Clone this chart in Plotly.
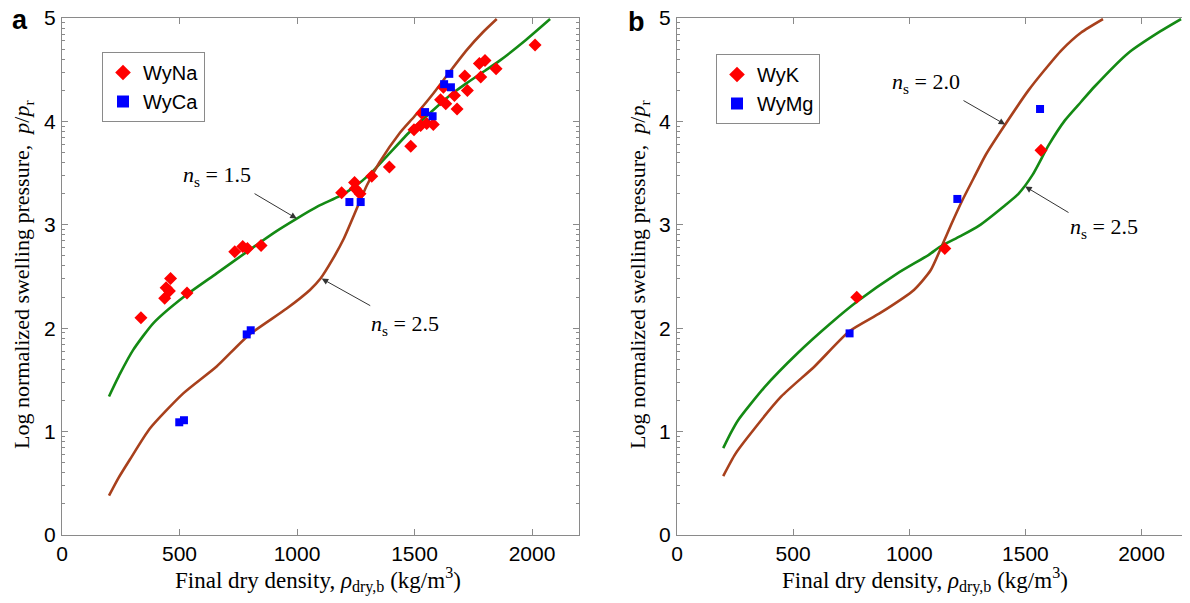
import plotly.graph_objects as go

# ---------------- Panel a ----------------
wyna_rho = [336, 437, 443, 457, 462, 532, 735, 769, 789, 847, 1190, 1245, 1248, 1268, 1318,
            1393, 1484, 1498, 1526, 1531, 1552, 1580, 1611, 1623, 1633, 1670, 1681, 1714,
            1725, 1776, 1782, 1800, 1847, 2013]
wyna_logp = [2.10, 2.29, 2.39, 2.36, 2.48, 2.34, 2.74, 2.79, 2.77, 2.80, 3.31, 3.41, 3.35, 3.30, 3.47,
             3.56, 3.76, 3.92, 3.96, 4.08, 3.98, 3.97, 4.21, 4.33, 4.17, 4.25, 4.12, 4.44,
             4.30, 4.56, 4.43, 4.59, 4.51, 4.74]
wyca_rho = [499, 519, 786, 803, 1223, 1271, 1545, 1577, 1626, 1648, 1655]
wyca_logp = [1.09, 1.11, 1.94, 1.98, 3.22, 3.22, 4.09, 4.05, 4.36, 4.46, 4.33]

a_ns15_rho = [200, 247, 303, 389, 516, 658, 800, 900, 999, 1090, 1183, 1240, 1310, 1381,
              1480, 1580, 1650, 1722, 1800, 1864, 1970, 2077]
a_ns15_logp = [1.34, 1.56, 1.79, 2.05, 2.30, 2.53, 2.76, 2.92, 3.06, 3.18, 3.28, 3.36, 3.49, 3.66,
               3.90, 4.11, 4.25, 4.37, 4.49, 4.59, 4.78, 4.99]
a_ns25_rho = [200, 240, 289, 374, 516, 658, 793, 956, 1055, 1100, 1150, 1200, 1240, 1297,
              1350, 1438, 1500, 1580, 1650, 1722, 1790, 1850]
a_ns25_logp = [0.38, 0.55, 0.73, 1.03, 1.37, 1.63, 1.93, 2.19, 2.37, 2.48, 2.66, 2.87, 3.08, 3.38,
               3.60, 3.89, 4.05, 4.27, 4.48, 4.69, 4.86, 4.99]

# ---------------- Panel b ----------------
wyk_rho = [774, 1153, 1567]
wyk_logp = [2.30, 2.77, 3.72]
wymg_rho = [743, 1207, 1563]
wymg_logp = [1.95, 3.25, 4.12]

b_ns25_rho = [199, 230, 263, 377, 520, 663, 777, 949, 1084, 1134, 1220, 1299, 1413, 1470,
              1530, 1600, 1670, 1740, 1799, 1942, 2080, 2170]
b_ns25_logp = [0.84, 0.98, 1.11, 1.43, 1.76, 2.05, 2.26, 2.53, 2.71, 2.79, 2.89, 2.99, 3.19, 3.30,
               3.48, 3.77, 4.01, 4.19, 4.34, 4.66, 4.87, 4.99]
b_ns20_rho = [199, 250, 306, 449, 592, 742, 877, 1020, 1092, 1141, 1180, 1227, 1277, 1330,
              1413, 1513, 1580, 1656, 1740, 1834]
b_ns20_logp = [0.57, 0.78, 0.95, 1.34, 1.63, 1.97, 2.15, 2.37, 2.56, 2.80, 3.00, 3.23, 3.45, 3.68,
               3.97, 4.30, 4.49, 4.69, 4.86, 4.99]

x_tick_vals = [0, 500, 1000, 1500, 2000]
y_tick_exps = [0, 1, 2, 3, 4, 5]
y_tick_labels = ["0", "1", "2", "3", "4", "5"]
y_minor_digits = [2, 3, 4, 5, 6, 7, 8, 9]

GREEN = "#148a14"
BROWN = "#a8401c"
RED = "#ff0000"
BLUE = "#0000ff"
AXC = "#8a8a8a"

# page body has an 8px margin: figure is drawn 8px right/down in the window
OFF = 8
W, H = 1190 - OFF, 603 - OFF


def fx(px):
    return (px - OFF) / W


def fy(py):
    return 1 - (py - OFF) / H


def p(vals):
    return [10 ** v for v in vals]


fig = go.Figure()


def line(xs, ys, color, xa, ya):
    fig.add_trace(go.Scatter(x=xs, y=p(ys), mode="lines",
                             line=dict(color=color, width=2.6, shape="spline", smoothing=0.6),
                             showlegend=False, xaxis=xa, yaxis=ya, hoverinfo="skip"))


def pts(xs, ys, name, sym, color, size, xa, ya, leg):
    fig.add_trace(go.Scatter(x=xs, y=p(ys), mode="markers", name=name,
                             marker=dict(symbol=sym, color=color, size=size, line=dict(width=0)),
                             xaxis=xa, yaxis=ya, legend=leg))


line(a_ns15_rho, a_ns15_logp, GREEN, "x", "y")
line(a_ns25_rho, a_ns25_logp, BROWN, "x", "y")
pts(wyna_rho, wyna_logp, "WyNa", "diamond", RED, 10, "x", "y", "legend")
pts(wyca_rho, wyca_logp, "WyCa", "square", BLUE, 8, "x", "y", "legend")

line(b_ns20_rho, b_ns20_logp, BROWN, "x2", "y2")
line(b_ns25_rho, b_ns25_logp, GREEN, "x2", "y2")
pts(wyk_rho, wyk_logp, "WyK", "diamond", RED, 10, "x2", "y2", "legend2")
pts(wymg_rho, wymg_logp, "WyMg", "square", BLUE, 8, "x2", "y2", "legend2")

tickfont = dict(family="Arial, Liberation Sans, sans-serif", size=21, color="black")
minor_vals = [d * 10 ** e for e in y_tick_exps[:-1] for d in y_minor_digits]


def xax(dom, anchor):
    return dict(domain=dom, anchor=anchor, range=[0, 2200], tickvals=x_tick_vals, ticks="inside", ticklen=6,
                tickcolor=AXC, showline=True, linecolor=AXC, linewidth=1, mirror="allticks",
                showgrid=False, zeroline=False, tickfont=tickfont, automargin=False,
                ticklabelstandoff=0, ticklabeloverflow="allow")


def yax(anchor):
    return dict(domain=[fy(535), fy(18)], anchor=anchor, type="log", range=[0, 5],
                tickvals=[10 ** e for e in y_tick_exps], ticktext=y_tick_labels,
                ticks="inside", ticklen=6, tickcolor=AXC, showline=True, linecolor=AXC, linewidth=1,
                mirror="allticks", showgrid=False, zeroline=False, tickfont=tickfont, automargin=False,
                ticklabelstandoff=1, ticklabeloverflow="allow",
                minor=dict(ticks="inside", ticklen=3, tickcolor=AXC, tickvals=minor_vals, showgrid=False))


serif = "Liberation Serif, Times New Roman, serif"
ann = []
# panel letters
for txt, xp, yp in (("a", 20, 20), ("b", 637, 22)):
    ann.append(dict(text="<b>" + txt + "</b>", x=fx(xp), y=fy(yp), xref="paper", yref="paper",
                    xanchor="center", yanchor="middle", showarrow=False,
                    font=dict(family="Arial", size=27, color="black")))
# y titles
ytitle = "Log normalized swelling pressure,  <i>p</i>/<i>p</i><sub>r</sub>"
for xp in (23, 639):
    ann.append(dict(text=ytitle, x=fx(xp), y=fy(275), xref="paper", yref="paper", showarrow=False,
                    xanchor="center", yanchor="middle",
                    textangle=-90, font=dict(family=serif, size=22, color="black")))
xtitle = "Final dry density, <i>ρ</i><sub>dry,b</sub> (kg/m<sup>3</sup>)"
for xp in (318, 925):
    ann.append(dict(text=xtitle, x=fx(xp), y=fy(580), xref="paper", yref="paper", showarrow=False,
                    xanchor="center", yanchor="middle",
                    font=dict(family=serif, size=23, color="black")))


def arrow(xa, ya, hx, hy, tx, ty):
    ann.append(dict(text="", x=hx, y=hy, ax=tx, ay=ty, xref=xa, yref=ya, axref=xa, ayref=ya,
                    showarrow=True, arrowhead=2, arrowsize=1.3, arrowwidth=1, arrowcolor="#333333"))


def label(xa, ya, x, y, val):
    ann.append(dict(text="<i>n</i><sub>s</sub> = " + val, x=x, y=y, xref=xa, yref=ya, showarrow=False,
                    xanchor="center", yanchor="middle",
                    font=dict(family=serif, size=22, color="black")))


arrow("x", "y", 999, 3.06, 813, 3.31)
label("x", "y", 660, 3.47, "1.5")
arrow("x", "y", 1105, 2.48, 1318, 2.21)
label("x", "y", 1460, 2.03, "2.5")
arrow("x2", "y2", 1413, 3.97, 1227, 4.21)
label("x2", "y2", 1072, 4.37, "2.0")
arrow("x2", "y2", 1499, 3.37, 1692, 3.11)
label("x2", "y2", 1839, 2.97, "2.5")

legstyle = dict(bgcolor="white", bordercolor=AXC, borderwidth=1,
                font=dict(family="Arial", size=20, color="black"), xanchor="left", yanchor="top",
                itemsizing="constant", tracegroupgap=0)

fig.update_layout(
    width=W, height=H, margin=dict(l=0, r=0, t=0, b=0, autoexpand=False),
    paper_bgcolor="white", plot_bgcolor="white",
    xaxis=xax([fx(62), fx(579)], "y"),
    yaxis=yax("x"),
    xaxis2=xax([fx(677), fx(1188)], "y2"),
    yaxis2=yax("x2"),
    legend=dict(x=fx(102), y=fy(52), **legstyle),
    legend2=dict(x=fx(716), y=fy(54), **legstyle),
    annotations=ann,
    showlegend=True,
)

fig.write_html("out.html")
